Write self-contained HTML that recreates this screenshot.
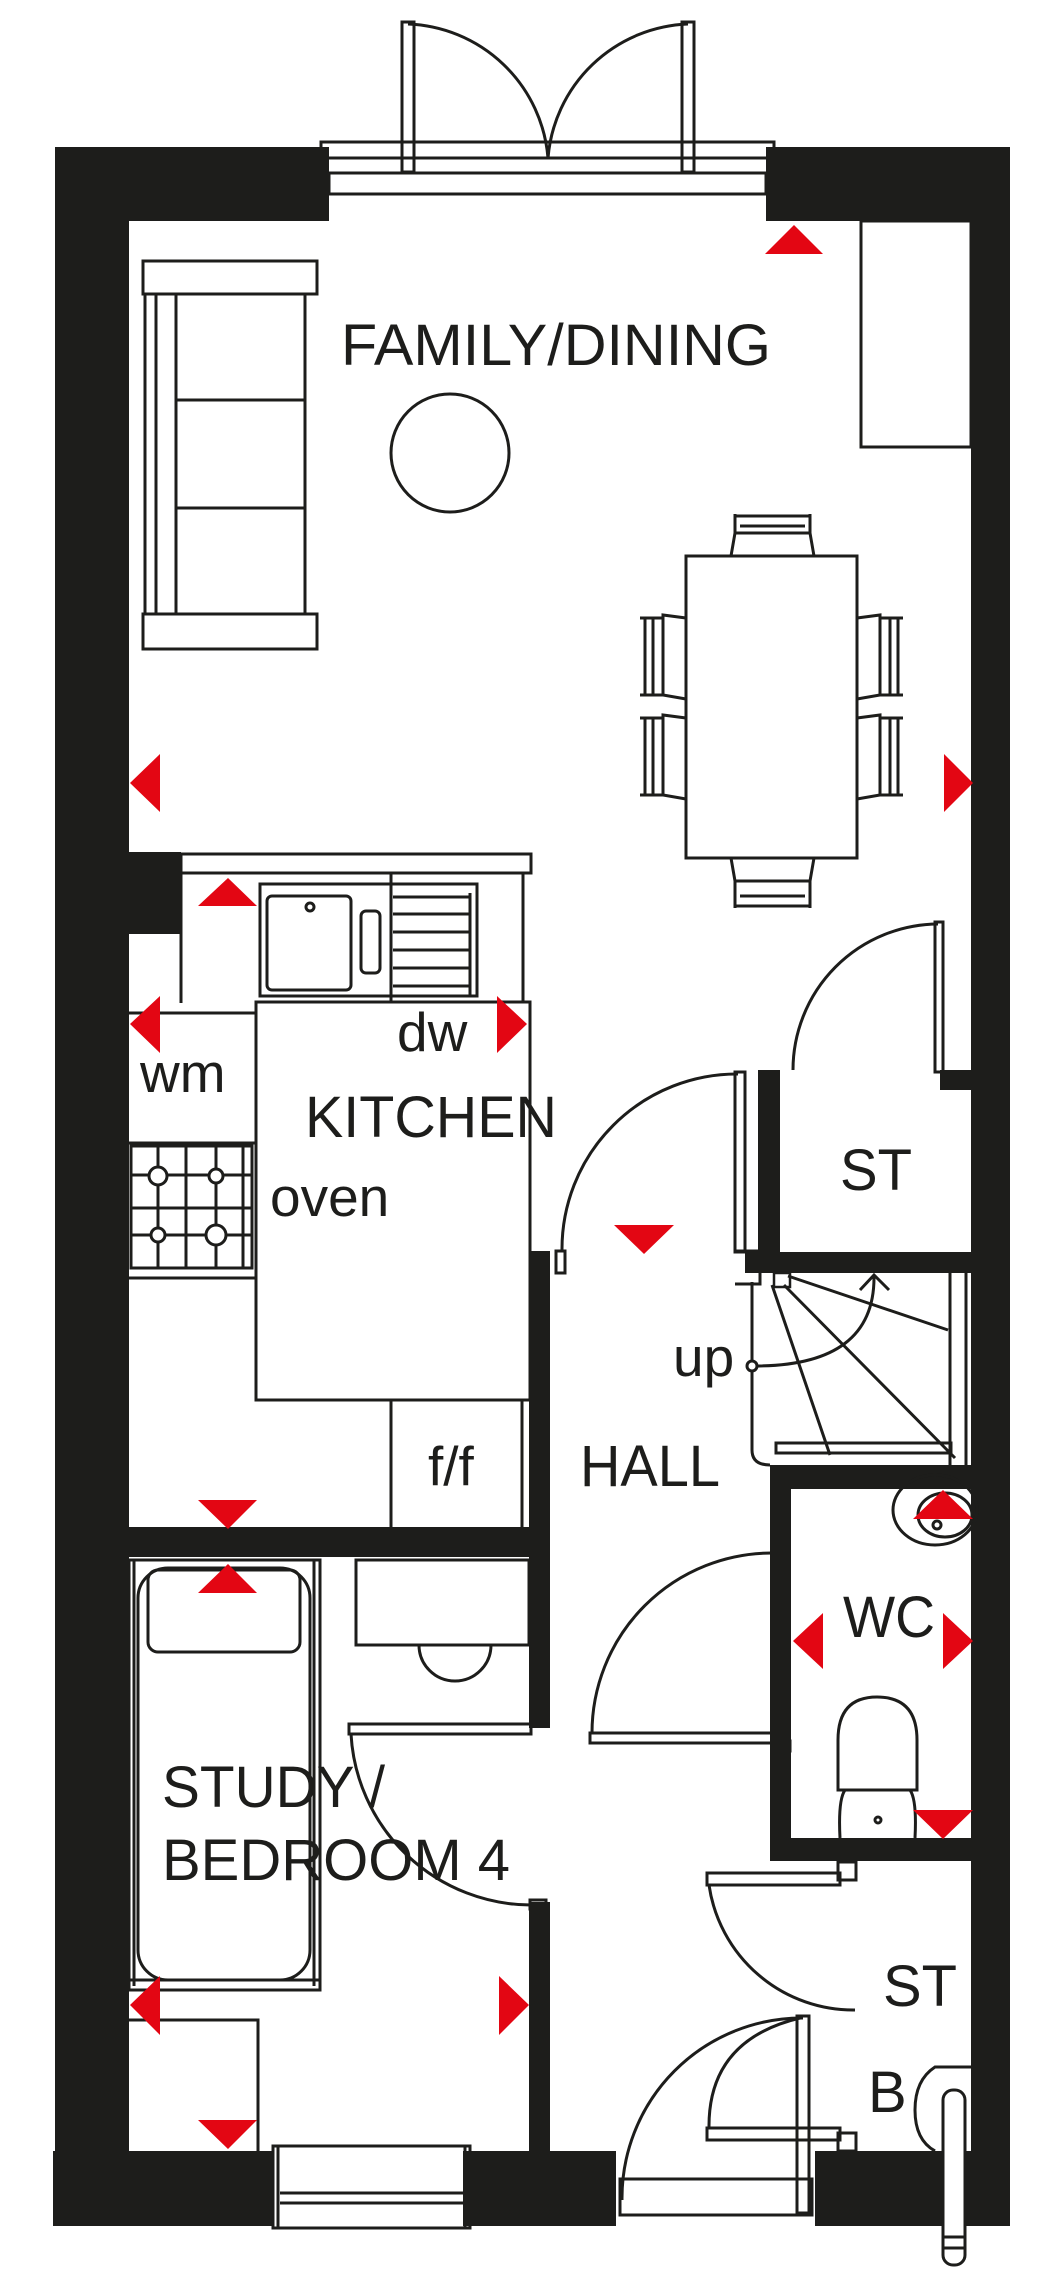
<!DOCTYPE html>
<html><head><meta charset="utf-8"><style>
html,body{margin:0;padding:0;background:#fff;}
svg{display:block;}
text{font-family:"Liberation Sans",sans-serif;fill:#1d1d1b;}
</style></head><body>
<svg width="1064" height="2284" viewBox="0 0 1064 2284" xmlns="http://www.w3.org/2000/svg">
<g fill="#1d1d1b">
<!-- outer walls -->
<rect x="55" y="147" width="274" height="74"/>
<rect x="766" y="147" width="244" height="74"/>
<rect x="55" y="147" width="74" height="2079"/>
<rect x="971" y="147" width="39" height="2079"/>
<rect x="129" y="852" width="52" height="82"/>
<!-- kitchen/bed wall -->
<rect x="129" y="1527" width="421" height="30"/>
<!-- hall wall -->
<rect x="529" y="1251" width="21" height="477"/>
<rect x="529" y="1902" width="21" height="250"/>
<!-- ST upper -->
<rect x="758" y="1070" width="22" height="196"/>
<rect x="745" y="1252" width="228" height="21"/>
<rect x="940" y="1070" width="33" height="20"/>
<!-- below stairs / WC -->
<rect x="770" y="1465" width="203" height="24"/>
<rect x="770" y="1465" width="21" height="396"/>
<rect x="770" y="1838" width="203" height="23"/>
<!-- bottom wall -->
<rect x="53" y="2151" width="220" height="75"/>
<rect x="463" y="2151" width="153" height="75"/>
<rect x="815" y="2151" width="158" height="75"/>
</g>
<g fill="none" stroke="#1d1d1b" stroke-width="3">
<!-- top window & french doors -->
<rect x="321" y="142" width="453" height="16"/>
<rect x="324" y="158" width="447" height="15"/>
<rect x="329" y="173" width="437" height="21"/>
<rect x="402" y="22" width="12" height="150"/>
<rect x="682" y="22" width="12" height="150"/>
<path d="M408 24 A146 146 0 0 1 548 158"/>
<path d="M688 24 A146 146 0 0 0 548 158"/>
<!-- sofa -->
<rect x="143" y="261" width="174" height="33"/>
<rect x="143" y="614" width="174" height="35"/>
<path d="M145 294 V614 M156 294 V614 M176 294 V614 M305 294 V614 M176 400 H305 M176 508 H305"/>
<circle cx="450" cy="453" r="59"/>
<rect x="861" y="221" width="110" height="226"/>
<!-- table & chairs -->
<rect x="686" y="556" width="171" height="302"/>
<path d="M731 556 L735 533 H810 L814 556 M735 514 V533 M810 514 V533 M735 516 H810 M740 526 H805"/>
<path d="M731 858 L735 881 H810 L814 858 M735 908 V881 M810 908 V881 M735 906 H810 M740 896 H805"/>
<path d="M686 618 L663 615 V695 L686 699 M640 618 H663 M640 695 H663 M645 618 V695 M653 618 V695"/>
<path d="M686 718 L663 715 V795 L686 799 M640 718 H663 M640 795 H663 M645 718 V795 M653 718 V795"/>
<path d="M857 618 L880 615 V695 L857 699 M903 618 H880 M903 695 H880 M898 618 V695 M890 618 V695"/>
<path d="M857 718 L880 715 V795 L857 799 M903 718 H880 M903 795 H880 M898 718 V795 M890 718 V795"/>
<!-- kitchen -->
<rect x="181" y="854" width="350" height="19"/>
<path d="M181 873 V1003 M523 873 V1003"/>
<rect x="260" y="884" width="217" height="112"/>
<path d="M391 873 V1002"/>
<rect x="267" y="896" width="84" height="94" rx="5"/>
<circle cx="310" cy="907" r="4"/>
<rect x="361" y="911" width="19" height="62" rx="5"/>
<path d="M393 897 H470 M393 914 H470 M393 932 H470 M393 950 H470 M393 968 H470 M393 986 H470 M470 893 V996"/>
<rect x="256" y="1002" width="274" height="398"/>
<path d="M129 1013 H256 M129 1143 H256 M129 1278 H256"/>
<rect x="131" y="1146" width="121" height="122"/>
<path d="M131 1175 H252 M131 1208 H252 M131 1235 H252 M158 1146 V1268 M186 1146 V1268 M216 1146 V1268 M243 1146 V1268"/>
<circle cx="158" cy="1176" r="9" fill="#fff"/><circle cx="216" cy="1176" r="7" fill="#fff"/>
<circle cx="158" cy="1235" r="7" fill="#fff"/><circle cx="216" cy="1235" r="10" fill="#fff"/>
<path d="M391 1400 V1527 M522 1400 V1527"/>
<!-- kitchen door -->
<rect x="735" y="1072" width="10" height="180"/>
<path d="M738 1074 A175 175 0 0 0 562 1250"/>
<rect x="556" y="1251" width="9" height="22"/>
<!-- ST upper door -->
<rect x="935" y="922" width="8" height="150"/>
<path d="M938 924 A146 146 0 0 0 793 1070"/>
<!-- stairs -->
<path d="M752 1282 V1450 Q752 1465 770 1465"/>
<rect x="776" y="1443" width="175" height="10"/>
<path d="M950 1273 V1465 M966 1273 V1465"/>
<rect x="774" y="1273" width="16" height="14" stroke-width="2.5"/>
<path d="M772 1285 L830 1455 M784 1285 L955 1458 M788 1276 L948 1330"/>
<path d="M755 1366 Q875 1366 874 1276 M860 1290 L874 1275 L889 1290"/>
<circle cx="752" cy="1366" r="5" fill="#fff"/>
<path d="M735 1251 H760 V1284 H735"/>
<!-- WC -->
<ellipse cx="935" cy="1510" rx="42" ry="35"/>
<ellipse cx="945" cy="1515" rx="27" ry="22"/>
<circle cx="937" cy="1525" r="4"/>
<path d="M838 1790 V1740 Q838 1697 877 1697 Q917 1697 917 1740 V1790 Z"/>
<path d="M845 1790 Q838 1800 840 1838 M910 1790 Q917 1800 915 1838"/>
<circle cx="878" cy="1820" r="3"/>
<rect x="590" y="1733" width="182" height="10"/>
<path d="M592 1733 A180 180 0 0 1 772 1553"/>
<rect x="772" y="1741" width="18" height="10"/>
<!-- bedroom -->
<rect x="129" y="1560" width="191" height="430"/>
<path d="M134 1560 V1986 M314 1560 V1986 M129 1980 H320"/>
<rect x="138" y="1568" width="172" height="412" rx="30"/>
<rect x="148" y="1570" width="152" height="82" rx="10"/>
<rect x="356" y="1560" width="173" height="85"/>
<path d="M419 1645 A36 36 0 0 0 491 1645"/>
<rect x="349" y="1724" width="182" height="10"/>
<path d="M351 1734 A181 181 0 0 0 531 1905"/>
<rect x="530" y="1900" width="16" height="9"/>
<path d="M129 2020 H258 V2151"/>
<!-- bottom window -->
<rect x="273" y="2146" width="197" height="82"/>
<path d="M278 2146 V2228 M465 2146 V2228 M280 2193 H463 M280 2203 H463"/>
<!-- front door -->
<rect x="620" y="2179" width="192" height="36"/>
<rect x="797" y="2016" width="12" height="197"/>
<path d="M622 2200 A180 180 0 0 1 803 2018"/>
<!-- ST lower doors -->
<rect x="707" y="1873" width="133" height="12"/>
<path d="M709 1885 A146 146 0 0 0 855 2010"/>
<rect x="707" y="2128" width="133" height="12"/>
<path d="M709 2128 Q708 2040 800 2018"/>
<rect x="838" y="1862" width="18" height="18"/>
<rect x="838" y="2133" width="18" height="18"/>
<!-- boiler -->
<path d="M973 2067 H935 Q915 2080 915 2110 Q915 2140 935 2151"/>
<rect x="943" y="2090" width="22" height="175" rx="10" fill="#fff"/>
<path d="M943 2237 H965 M943 2248 H965"/>
</g>
<!-- red markers -->
<g fill="#e30613">
<polygon points="765,254 794,225 823,254"/>
<polygon points="160,754 130,783 160,812"/>
<polygon points="944,754 973,783 944,812"/>
<polygon points="198,906 228,878 257,906"/>
<polygon points="160,996 130,1024 160,1053"/>
<polygon points="497,996 527,1024 497,1053"/>
<polygon points="614,1225 674,1225 644,1254"/>
<polygon points="198,1500 257,1500 228,1529"/>
<polygon points="913,1519 943,1490 973,1519"/>
<polygon points="198,1593 228,1564 257,1593"/>
<polygon points="823,1613 793,1641 823,1669"/>
<polygon points="943,1613 973,1641 943,1669"/>
<polygon points="913,1810 973,1810 943,1839"/>
<polygon points="160,1976 130,2005 160,2035"/>
<polygon points="499,1976 529,2005 499,2035"/>
<polygon points="198,2120 257,2120 228,2149"/>
</g>
<g font-size="58">
<text x="341" y="365" textLength="430" lengthAdjust="spacingAndGlyphs">FAMILY/DINING</text>
<text x="397" y="1051" font-size="55">dw</text>
<text x="140" y="1092" font-size="55">wm</text>
<text x="305" y="1137" textLength="252" lengthAdjust="spacingAndGlyphs">KITCHEN</text>
<text x="270" y="1216" font-size="55">oven</text>
<text x="840" y="1190" textLength="72" lengthAdjust="spacingAndGlyphs">ST</text>
<text x="673" y="1376" font-size="55">up</text>
<text x="580" y="1486" textLength="140" lengthAdjust="spacingAndGlyphs">HALL</text>
<text x="428" y="1485" font-size="55">f/f</text>
<text x="843" y="1637" textLength="92" lengthAdjust="spacingAndGlyphs">WC</text>
<text x="162" y="1807" textLength="223" lengthAdjust="spacingAndGlyphs">STUDY /</text>
<text x="162" y="1880" textLength="348" lengthAdjust="spacingAndGlyphs">BEDROOM 4</text>
<text x="883" y="2006" textLength="74" lengthAdjust="spacingAndGlyphs">ST</text>
<text x="868" y="2112">B</text>
</g>
</svg>
</body></html>
